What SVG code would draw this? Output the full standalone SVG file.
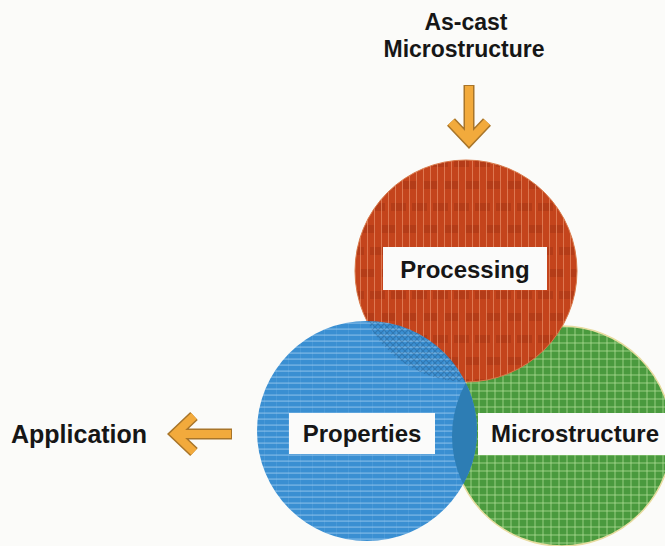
<svg xmlns="http://www.w3.org/2000/svg" width="665" height="546" viewBox="0 0 665 546">
  <style>
    .lbl { font-family: "Liberation Sans", Arial, Helvetica, sans-serif; font-weight: bold; fill: #161616; }
    .box { fill: #fbfbfa; }
    .arrow-edge { fill: none; stroke: #a8752a; stroke-width: 11; stroke-linejoin: miter; stroke-linecap: butt; }
    .arrow-fill { fill: none; stroke: #f2aa3c; stroke-width: 8; stroke-linejoin: miter; stroke-linecap: butt; }
  </style>
  <defs>
    <!-- red brick texture with light vertical rules -->
    <pattern id="pat-red" width="42" height="44" patternUnits="userSpaceOnUse" x="0" y="0">
      <rect width="42" height="44" fill="#c4441c"/>
      <g fill="#7a2008" opacity="0.22">
        <rect x="3" y="5" width="15" height="8"/>
        <rect x="24" y="5" width="15" height="8"/>
        <rect x="13" y="27" width="15" height="8"/>
        <rect x="34" y="27" width="8" height="8"/>
        <rect x="0" y="27" width="7" height="8"/>
      </g>
      <g fill="#ea8e68" opacity="0.7">
        <rect x="3" y="0" width="1" height="44"/>
        <rect x="10" y="0" width="1" height="44"/>
        <rect x="17" y="0" width="1" height="44"/>
        <rect x="24" y="0" width="1" height="44"/>
        <rect x="31" y="0" width="1" height="44"/>
        <rect x="38" y="0" width="1" height="44"/>
      </g>
    </pattern>
    <!-- blue ruled texture -->
    <pattern id="pat-blue" width="12" height="6" patternUnits="userSpaceOnUse">
      <rect width="12" height="6" fill="#3a8fd2"/>
      <rect x="0" y="4.5" width="12" height="1.2" fill="#9ccbf0" opacity="0.7"/>
      <rect x="0" y="0" width="1" height="6" fill="#9ccbf0" opacity="0.15"/>
    </pattern>
    <!-- green grid texture -->
    <pattern id="pat-green" width="8" height="8" patternUnits="userSpaceOnUse">
      <rect width="8" height="8" fill="#4a9a3e"/>
      <rect x="6.5" y="0" width="1" height="8" fill="#b2de96" opacity="0.75"/>
      <rect x="0" y="6.5" width="8" height="1" fill="#b2de96" opacity="0.75"/>
    </pattern>
    <!-- dark crosshatch for the processing/properties overlap -->
    <pattern id="pat-hatch" width="6" height="6" patternUnits="userSpaceOnUse">
      <path d="M0,6 L6,0 M0,0 L6,6" stroke="#163f66" stroke-width="1.2"/>
    </pattern>
    <clipPath id="clip-red"><circle cx="466" cy="271" r="111"/></clipPath>
    <clipPath id="clip-green"><circle cx="562" cy="436" r="110"/></clipPath>
  </defs>

  <rect width="665" height="546" fill="#fbfbf9"/>

  <!-- Microstructure circle (bottom layer) -->
  <g id="node-microstructure">
    <circle cx="562" cy="436" r="110" fill="url(#pat-green)" stroke="#e8dca0" stroke-width="1.5"/>
  </g>

  <!-- Processing circle -->
  <g id="node-processing">
    <circle cx="466" cy="271" r="111" fill="url(#pat-red)" stroke="#d87a4a" stroke-width="1"/>
  </g>

  <!-- Properties circle (top layer) with overlap shading -->
  <g id="node-properties">
    <circle cx="367" cy="431" r="110" fill="url(#pat-blue)"/>
    <g clip-path="url(#clip-green)">
      <circle cx="367" cy="431" r="110" fill="#2d7db4"/>
    </g>
    <g clip-path="url(#clip-red)">
      <circle cx="367" cy="431" r="110" fill="url(#pat-hatch)" opacity="0.3"/>
    </g>
  </g>

  <!-- label plates and captions -->
  <g id="label-processing">
    <rect class="box" x="383" y="247" width="164" height="43"/>
    <text class="lbl" x="465" y="278" font-size="24" text-anchor="middle">Processing</text>
  </g>
  <g id="label-properties">
    <rect class="box" x="289" y="413" width="146" height="41"/>
    <text class="lbl" x="362" y="442" font-size="24" text-anchor="middle">Properties</text>
  </g>
  <g id="label-microstructure">
    <rect class="box" x="478" y="413" width="187" height="42"/>
    <text class="lbl" x="575" y="442" font-size="24" text-anchor="middle">Microstructure</text>
  </g>

  <g id="node-ascast">
    <text class="lbl" x="466" y="30" font-size="23" text-anchor="middle">As-cast</text>
    <text class="lbl" x="464" y="57" font-size="23" text-anchor="middle">Microstructure</text>
  </g>

  <g id="node-application">
    <text class="lbl" x="11" y="443" font-size="25">Application</text>
  </g>

  <!-- connectors -->
  <g id="connectors">
    <g id="arrow-in">
      <path class="arrow-edge" d="M469,85 V142 M451,122 L469,141 L487,122"/>
      <path class="arrow-fill" d="M469,86 V141 M451,122 L469,141 L487,122"/>
    </g>
    <g id="arrow-out">
      <path class="arrow-edge" d="M232,434 H175 M194,416 L175,434 L194,452"/>
      <path class="arrow-fill" d="M231,434 H176 M194,416 L175,434 L194,452"/>
    </g>
  </g>
</svg>
